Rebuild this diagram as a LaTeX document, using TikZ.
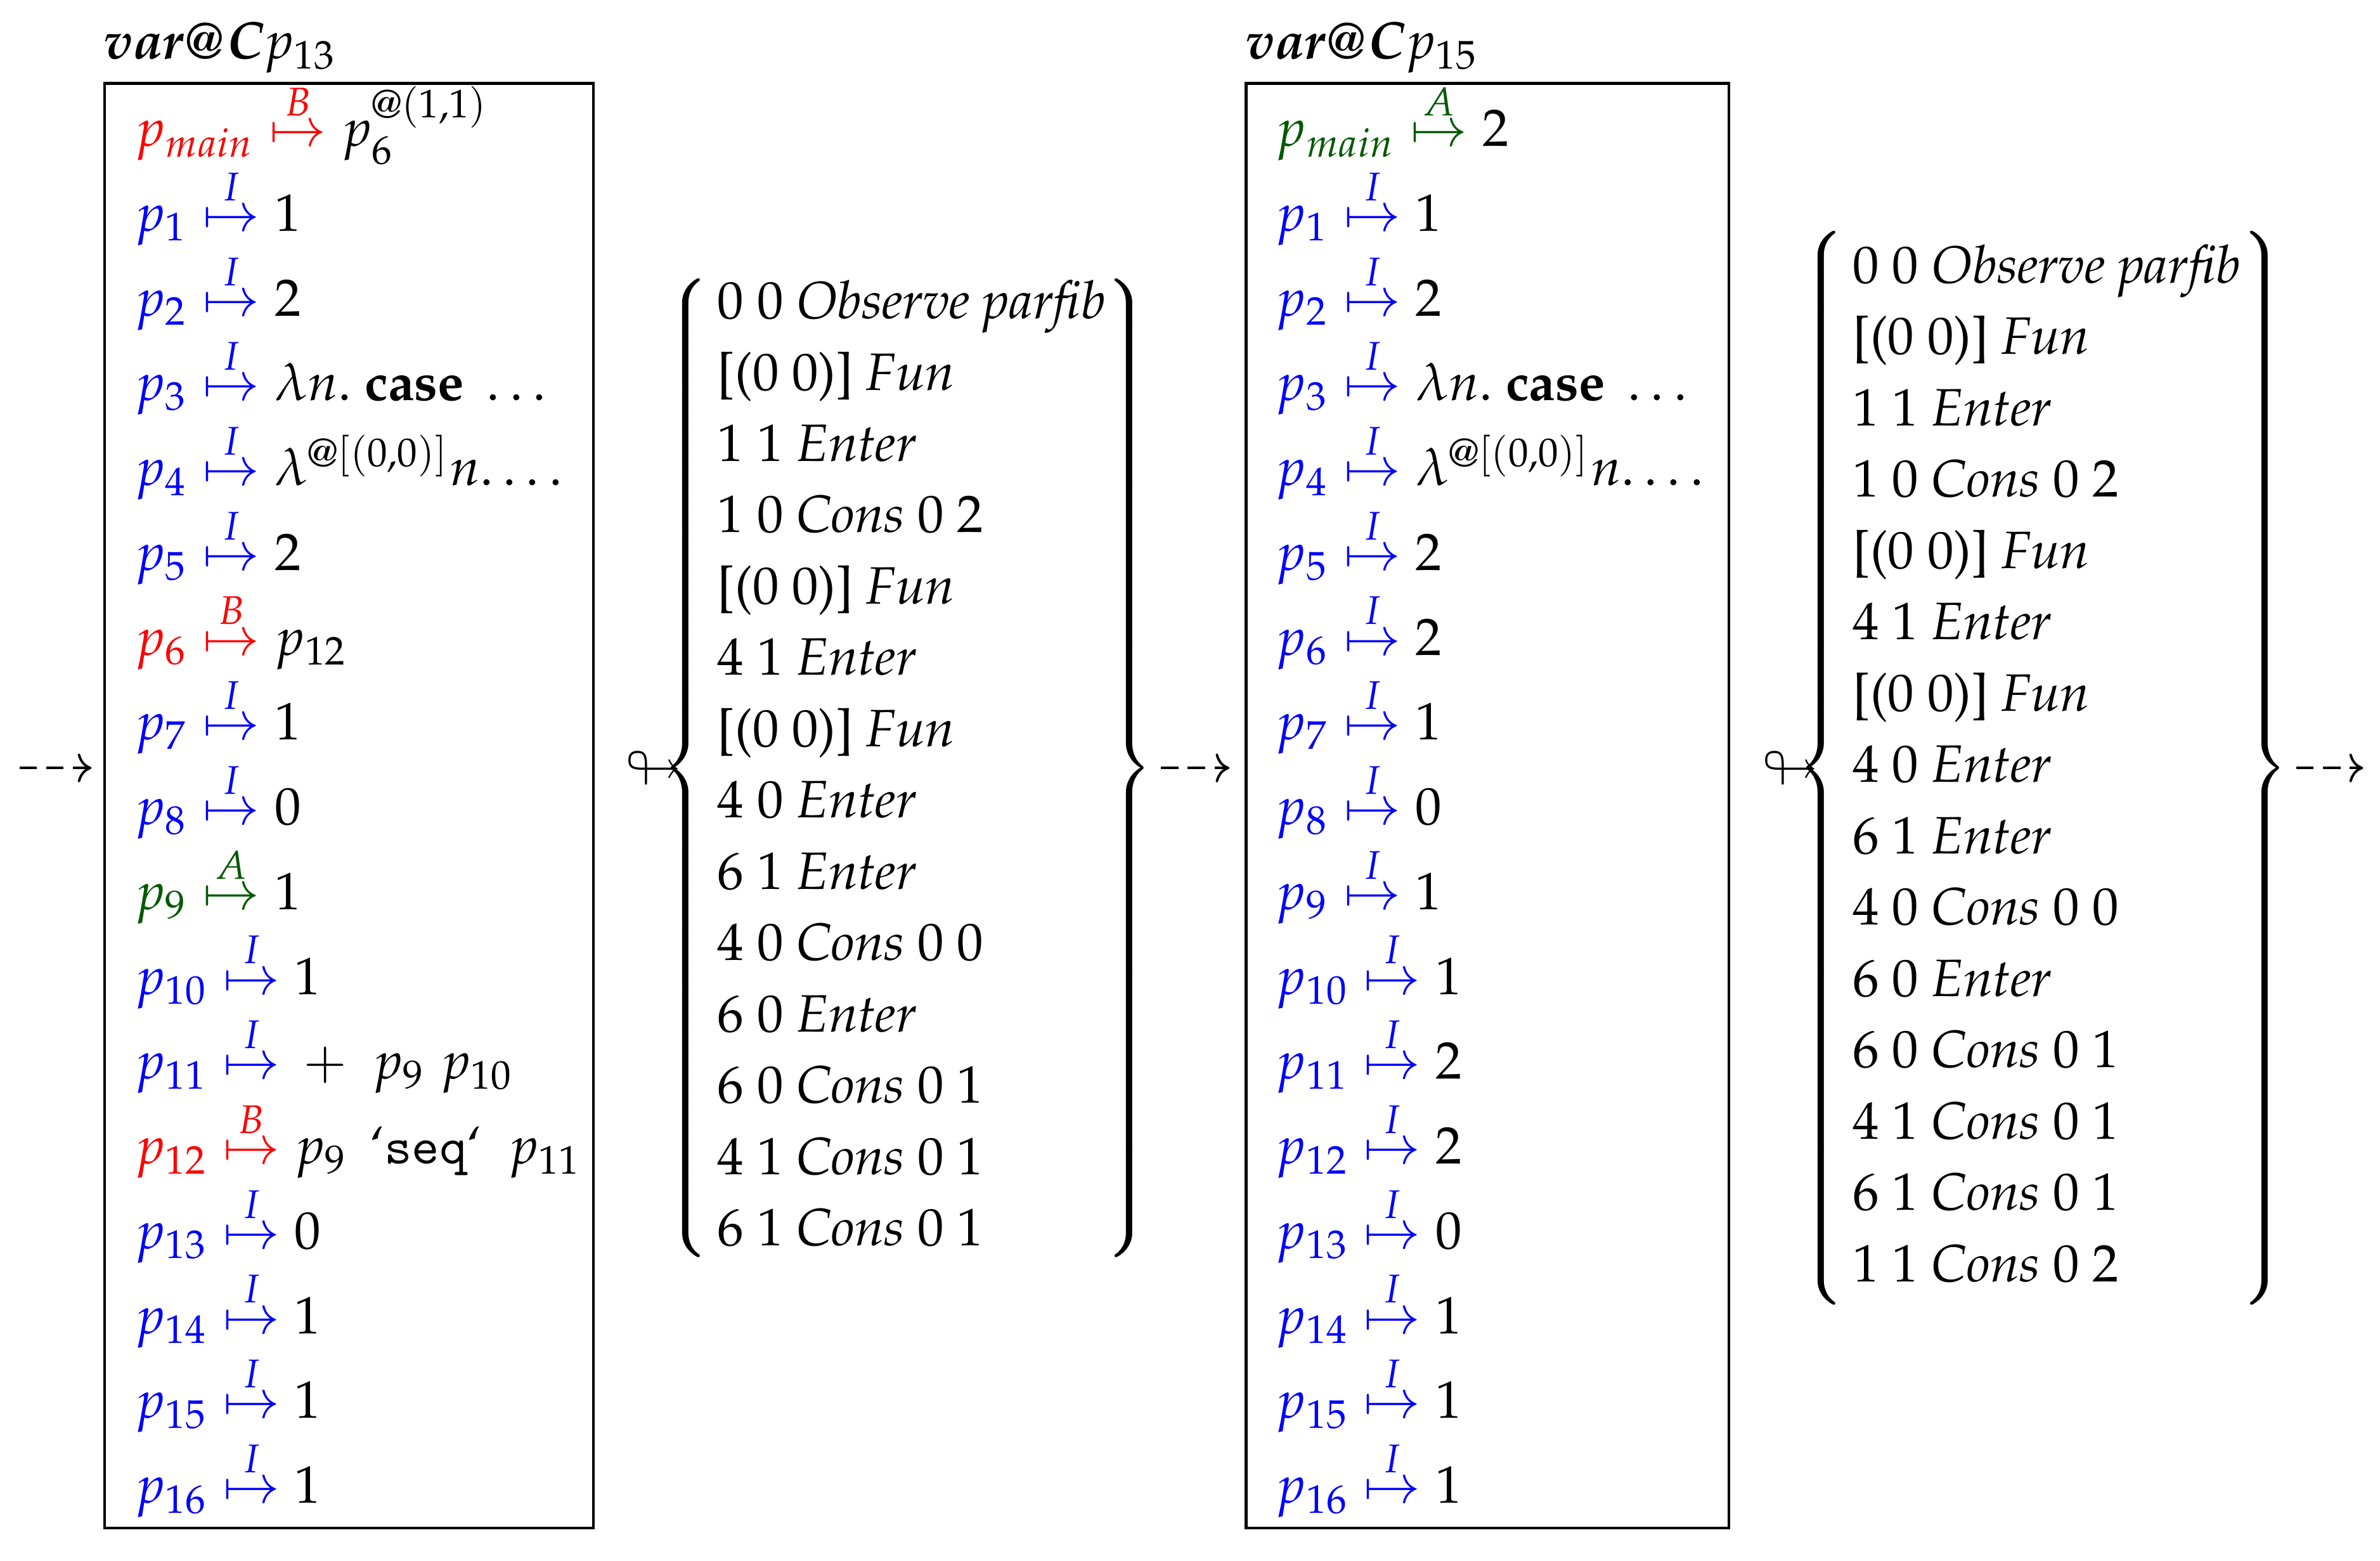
\documentclass[tikz,border=0pt]{standalone}
\usepackage[OT1]{fontenc}
\usepackage{mathpazo}
\usepackage{amssymb}
\usetikzlibrary{arrows.meta}
\definecolor{dgreen}{rgb}{0,0.35,0}
\newcommand{\bindrow}[4]{$\textcolor{#1}{#2}\mathrel{\textcolor{#1}{\stackrel{#3}{\mapsto}}}#4$}
\newcommand{\seqtt}{\mbox{`{\fontfamily{cmtt}\selectfont seq}`}}
\tikzset{
  rowtxt/.style={anchor=base west, inner sep=0pt},
  bx/.style={draw, line width=0.5pt, anchor=north west, inner sep=0pt, minimum height=274.5pt},
  dasharrow/.style={line width=0.47pt, dash pattern=on 3.3pt off 1.8pt, -{Computer Modern Rightarrow}},
  listnode/.style={anchor=west, inner sep=0pt},
}
\begin{document}
\begin{tikzpicture}
\useasboundingbox (0,0) rectangle (452.2pt,-296.5pt);
% labels
\node[rowtxt] (lab1) at (19.6pt,-11.2pt) {\textbf{\textit{var@C}}$p_{13}$};
\node[rowtxt] (lab2) at (236.5pt,-11.2pt) {\textbf{\textit{var@C}}$p_{15}$};
% boxes
\node[bx, minimum width=92.9pt] (box1) at (19.6pt,-15.6pt) {};
\node[bx, minimum width=91.7pt] (box2) at (236.5pt,-15.6pt) {};
% box 1 rows
\node[rowtxt] (b1r0) at (25.4pt,-27.8pt) {\bindrow{red}{p_{main}}{B}{p_6^{@(1,1)}}};
\node[rowtxt] (b1r1) at (25.4pt,-43.91pt) {\bindrow{blue}{p_1}{I}{1}};
\node[rowtxt] (b1r2) at (25.4pt,-60.02pt) {\bindrow{blue}{p_2}{I}{2}};
\node[rowtxt] (b1r3) at (25.4pt,-76.13pt) {\bindrow{blue}{p_3}{I}{\lambda n.\ \textbf{case}\ \ldots}};
\node[rowtxt] (b1r4) at (25.4pt,-92.24pt) {\bindrow{blue}{p_4}{I}{\lambda^{@[(0,0)]}n.\ldots}};
\node[rowtxt] (b1r5) at (25.4pt,-108.35pt) {\bindrow{blue}{p_5}{I}{2}};
\node[rowtxt] (b1r6) at (25.4pt,-124.46pt) {\bindrow{red}{p_6}{B}{p_{12}}};
\node[rowtxt] (b1r7) at (25.4pt,-140.57pt) {\bindrow{blue}{p_7}{I}{1}};
\node[rowtxt] (b1r8) at (25.4pt,-156.68pt) {\bindrow{blue}{p_8}{I}{0}};
\node[rowtxt] (b1r9) at (25.4pt,-172.79pt) {\bindrow{dgreen}{p_9}{A}{1}};
\node[rowtxt] (b1r10) at (25.4pt,-188.9pt) {\bindrow{blue}{p_{10}}{I}{1}};
\node[rowtxt] (b1r11) at (25.4pt,-205.01pt) {\bindrow{blue}{p_{11}}{I}{\,+\hspace{4.8pt}p_9\;p_{10}}};
\node[rowtxt] (b1r12) at (25.4pt,-221.12pt) {\bindrow{red}{p_{12}}{B}{p_9\ \,\seqtt\ \ p_{11}}};
\node[rowtxt] (b1r13) at (25.4pt,-237.23pt) {\bindrow{blue}{p_{13}}{I}{0}};
\node[rowtxt] (b1r14) at (25.4pt,-253.34pt) {\bindrow{blue}{p_{14}}{I}{1}};
\node[rowtxt] (b1r15) at (25.4pt,-269.45pt) {\bindrow{blue}{p_{15}}{I}{1}};
\node[rowtxt] (b1r16) at (25.4pt,-285.56pt) {\bindrow{blue}{p_{16}}{I}{1}};
% box 2 rows
\node[rowtxt] (b2r0) at (242.2pt,-27.8pt) {\bindrow{dgreen}{p_{main}}{A}{2}};
\node[rowtxt] (b2r1) at (242.2pt,-43.91pt) {\bindrow{blue}{p_1}{I}{1}};
\node[rowtxt] (b2r2) at (242.2pt,-60.02pt) {\bindrow{blue}{p_2}{I}{2}};
\node[rowtxt] (b2r3) at (242.2pt,-76.13pt) {\bindrow{blue}{p_3}{I}{\lambda n.\ \textbf{case}\ \ldots}};
\node[rowtxt] (b2r4) at (242.2pt,-92.24pt) {\bindrow{blue}{p_4}{I}{\lambda^{@[(0,0)]}n.\ldots}};
\node[rowtxt] (b2r5) at (242.2pt,-108.35pt) {\bindrow{blue}{p_5}{I}{2}};
\node[rowtxt] (b2r6) at (242.2pt,-124.46pt) {\bindrow{blue}{p_6}{I}{2}};
\node[rowtxt] (b2r7) at (242.2pt,-140.57pt) {\bindrow{blue}{p_7}{I}{1}};
\node[rowtxt] (b2r8) at (242.2pt,-156.68pt) {\bindrow{blue}{p_8}{I}{0}};
\node[rowtxt] (b2r9) at (242.2pt,-172.79pt) {\bindrow{blue}{p_9}{I}{1}};
\node[rowtxt] (b2r10) at (242.2pt,-188.9pt) {\bindrow{blue}{p_{10}}{I}{1}};
\node[rowtxt] (b2r11) at (242.2pt,-205.01pt) {\bindrow{blue}{p_{11}}{I}{2}};
\node[rowtxt] (b2r12) at (242.2pt,-221.12pt) {\bindrow{blue}{p_{12}}{I}{2}};
\node[rowtxt] (b2r13) at (242.2pt,-237.23pt) {\bindrow{blue}{p_{13}}{I}{0}};
\node[rowtxt] (b2r14) at (242.2pt,-253.34pt) {\bindrow{blue}{p_{14}}{I}{1}};
\node[rowtxt] (b2r15) at (242.2pt,-269.45pt) {\bindrow{blue}{p_{15}}{I}{1}};
\node[rowtxt] (b2r16) at (242.2pt,-285.56pt) {\bindrow{blue}{p_{16}}{I}{1}};
% loop arrows
\node[inner sep=0pt] (loop1) at (124.3pt,-145.9pt) {$\looparrowright$};
\node[inner sep=0pt] (loop2) at (340.3pt,-145.9pt) {$\looparrowright$};
% lists
\node[listnode] (list1) at (125.5pt,-145.9pt) {\renewcommand{\arraystretch}{1.1292}$\left\{\begin{tabular}{@{\hspace{1.5pt}}l@{}}
0 0 \textit{Observe parfib}\\
{}[(0 0)] \textit{Fun}\\
1 1 \textit{Enter}\\
1 0 \textit{Cons} 0 2\\
{}[(0 0)] \textit{Fun}\\
4 1 \textit{Enter}\\
{}[(0 0)] \textit{Fun}\\
4 0 \textit{Enter}\\
6 1 \textit{Enter}\\
4 0 \textit{Cons} 0 0\\
6 0 \textit{Enter}\\
6 0 \textit{Cons} 0 1\\
4 1 \textit{Cons} 0 1\\
6 1 \textit{Cons} 0 1
\end{tabular}\right\}$};
\node[listnode] (list2) at (341.2pt,-145.9pt) {\renewcommand{\arraystretch}{1.1292}$\left\{\begin{tabular}{@{\hspace{1.5pt}}l@{}}
0 0 \textit{Observe parfib}\\
{}[(0 0)] \textit{Fun}\\
1 1 \textit{Enter}\\
1 0 \textit{Cons} 0 2\\
{}[(0 0)] \textit{Fun}\\
4 1 \textit{Enter}\\
{}[(0 0)] \textit{Fun}\\
4 0 \textit{Enter}\\
6 1 \textit{Enter}\\
4 0 \textit{Cons} 0 0\\
6 0 \textit{Enter}\\
6 0 \textit{Cons} 0 1\\
4 1 \textit{Cons} 0 1\\
6 1 \textit{Cons} 0 1\\
1 1 \textit{Cons} 0 2
\end{tabular}\right\}$};
% dashed connectors
\coordinate (in1) at (3.7pt,-145.9pt);
\coordinate (out2) at (449pt,-145.9pt);
\draw[dasharrow, shorten >=2.2pt] (in1) -- (in1 -| box1.west);
\draw[dasharrow, shorten <=1.2pt, shorten >=2.9pt] (list1.east) -- (list1.east -| box2.west);
\draw[dasharrow, shorten <=1.2pt] (list2.east) -- (out2);
\end{tikzpicture}
\end{document}
